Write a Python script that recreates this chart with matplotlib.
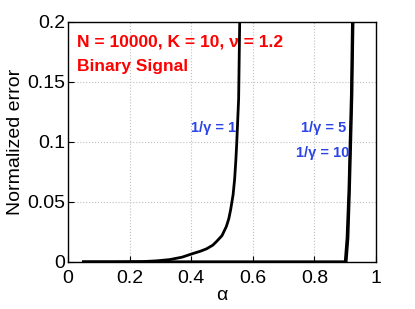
import numpy as np
import matplotlib.pyplot as plt

plt.rcParams['font.family'] = ['Liberation Sans', 'DejaVu Sans']

# 1/gamma = 1
alpha1 = [0.05, 0.15, 0.24, 0.29, 0.33, 0.37, 0.405, 0.43, 0.45, 0.47, 0.482, 0.5, 0.514,
          0.522, 0.528, 0.536, 0.541, 0.545, 0.548, 0.551, 0.554, 0.558]
err1 = [0.0, 0.0, 0.0003, 0.001, 0.002, 0.004, 0.007, 0.009, 0.011, 0.014, 0.017, 0.022, 0.0295,
        0.036, 0.0435, 0.056, 0.069, 0.085, 0.1, 0.118, 0.136, 0.21]

# 1/gamma = 5
alpha5 = [0.05, 0.5, 0.9, 0.906, 0.912, 0.916, 0.92, 0.924]
err5 = [0.0, 0.0, 0.0, 0.02, 0.06, 0.1, 0.14, 0.21]

# 1/gamma = 10
alpha10 = [0.05, 0.5, 0.903, 0.909, 0.914, 0.918, 0.922, 0.926]
err10 = [0.0, 0.0, 0.0, 0.02, 0.06, 0.1, 0.14, 0.21]

fig = plt.figure(figsize=(4.15, 3.09), dpi=100)
ax = fig.add_axes([68/415, 47/309, 308/415, 240/309])

ax.plot(alpha1, err1, color='black', lw=2)
ax.plot(alpha5, err5, color='black', lw=2)
ax.plot(alpha10, err10, color='black', lw=2)

ax.set_xlim(0, 1)
ax.set_ylim(0, 0.2)
ax.set_xticks([0, 0.2, 0.4, 0.6, 0.8, 1])
ax.set_xticklabels(['0', '0.2', '0.4', '0.6', '0.8', '1'])
ax.set_yticks([0, 0.05, 0.1, 0.15, 0.2])
ax.set_yticklabels(['0', '0.05', '0.1', '0.15', '0.2'])
ax.tick_params(direction='in', labelsize=14, length=4, pad=2)
ax.tick_params(axis='x', pad=6)
ax.grid(True, linestyle=':', color='#c0c0c0', lw=0.8)
for s in ax.spines.values():
    s.set_linewidth(1)

ax.set_xlabel('α', fontsize=14, labelpad=0)
ax.set_ylabel('Normalized error', fontsize=14, labelpad=2)

red = '#ff0000'
ax.text(0.03, 0.915, 'N = 10000, K = 10, ν = 1.2', transform=ax.transAxes,
        color=red, fontsize=12.5, fontweight='bold', va='center', ha='left')
ax.text(0.03, 0.815, 'Binary Signal', transform=ax.transAxes,
        color=red, fontsize=12.5, fontweight='bold', va='center', ha='left')

blue = '#2b45e8'
ax.text(0.545, 0.112, '1/γ = 1', color=blue, fontsize=10.5, fontweight='bold', ha='right', va='center')
ax.text(0.905, 0.112, '1/γ = 5', color=blue, fontsize=10.5, fontweight='bold', ha='right', va='center')
ax.text(0.912, 0.091, '1/γ = 10', color=blue, fontsize=10.5, fontweight='bold', ha='right', va='center')

fig.savefig('out.png', dpi=100)
